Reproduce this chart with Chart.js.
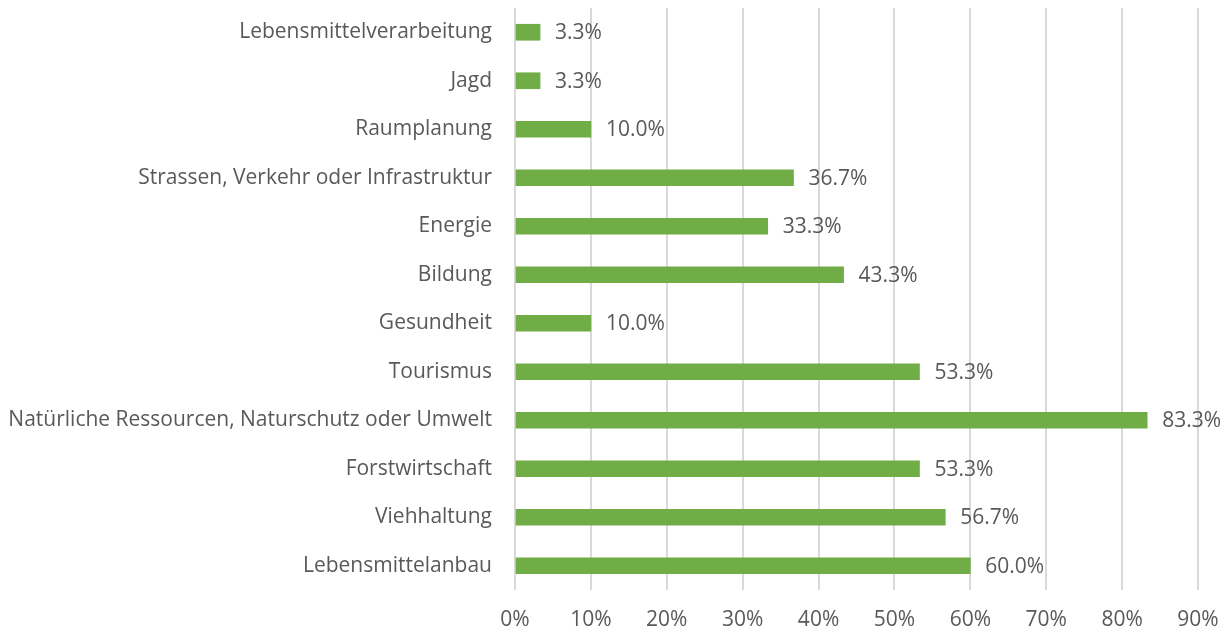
<!DOCTYPE html>
<html>
<head>
<meta charset="utf-8">
<script src="https://cdn.jsdelivr.net/npm/chart.js@4/dist/chart.umd.min.js"></script>
<style>
  html, body { margin: 0; padding: 0; background: #fff; }
  #wrap { width: 1228px; height: 631px; }
</style>
</head>
<body>
<div id="wrap"><canvas id="grafica" width="1228" height="631"></canvas></div>
<script>
const kategorien = [
  "Lebensmittelverarbeitung",
  "Jagd",
  "Raumplanung",
  "Strassen, Verkehr oder Infrastruktur",
  "Energie",
  "Bildung",
  "Gesundheit",
  "Tourismus",
  "Natürliche Ressourcen, Naturschutz oder Umwelt",
  "Forstwirtschaft",
  "Viehhaltung",
  "Lebensmittelanbau"
];
const anteile = [3.3, 3.3, 10.0, 36.7, 33.3, 43.3, 10.0, 53.3, 83.3, 53.3, 56.7, 60.0];
const xTicks = [0, 10, 20, 30, 40, 50, 60, 70, 80, 90];

const schrift = "'Open Sans', 'Liberation Sans', sans-serif";
const textFarbe = "#595959";
const groesse = 21;

// Werte rechts neben den Balken
const werteLabels = {
  id: "werteLabels",
  afterDatasetsDraw(chart) {
    const ctx = chart.ctx;
    const meta = chart.getDatasetMeta(0);
    ctx.save();
    ctx.font = groesse + "px " + schrift;
    ctx.fillStyle = textFarbe;
    ctx.textAlign = "left";
    ctx.textBaseline = "middle";
    meta.data.forEach((bar, i) => {
      ctx.fillText(anteile[i].toFixed(1) + "%", bar.x + 15, bar.y + 1);
    });
    ctx.restore();
  }
};

const ctx = document.getElementById("grafica").getContext("2d");
new Chart(ctx, {
  type: "bar",
  data: {
    labels: kategorien,
    datasets: [{
      data: anteile,
      backgroundColor: "#70ad47",
      borderWidth: 0,
      barThickness: 16
    }]
  },
  plugins: [werteLabels],
  options: {
    indexAxis: "y",
    responsive: false,
    animation: false,
    layout: { padding: { top: 8, right: 30, bottom: 0, left: 0 } },
    plugins: { legend: { display: false }, tooltip: { enabled: false } },
    scales: {
      x: {
        min: 0,
        max: 90,
        afterBuildTicks(scale) { scale.ticks = xTicks.map(v => ({ value: v })); },
        afterFit(scale) {
          scale.height = 41;
          scale.paddingLeft = 0;
          scale.paddingRight = 0;
        },
        grid: { color: "#d9d9d9", lineWidth: 2, drawTicks: false },
        border: { display: false },
        ticks: {
          padding: 17,
          color: textFarbe,
          font: { family: schrift, size: groesse }
          ,callback: v => v + "%"
        }
      },
      y: {
        grid: { display: false, drawTicks: false },
        border: { display: false },
        afterFit(scale) {
          scale.width = 515;
          scale.paddingTop = 0;
          scale.paddingBottom = 0;
        },
        ticks: {
          padding: 23,
          color: textFarbe,
          font: { family: schrift, size: groesse }
        }
      }
    }
  }
});
</script>
</body>
</html>
